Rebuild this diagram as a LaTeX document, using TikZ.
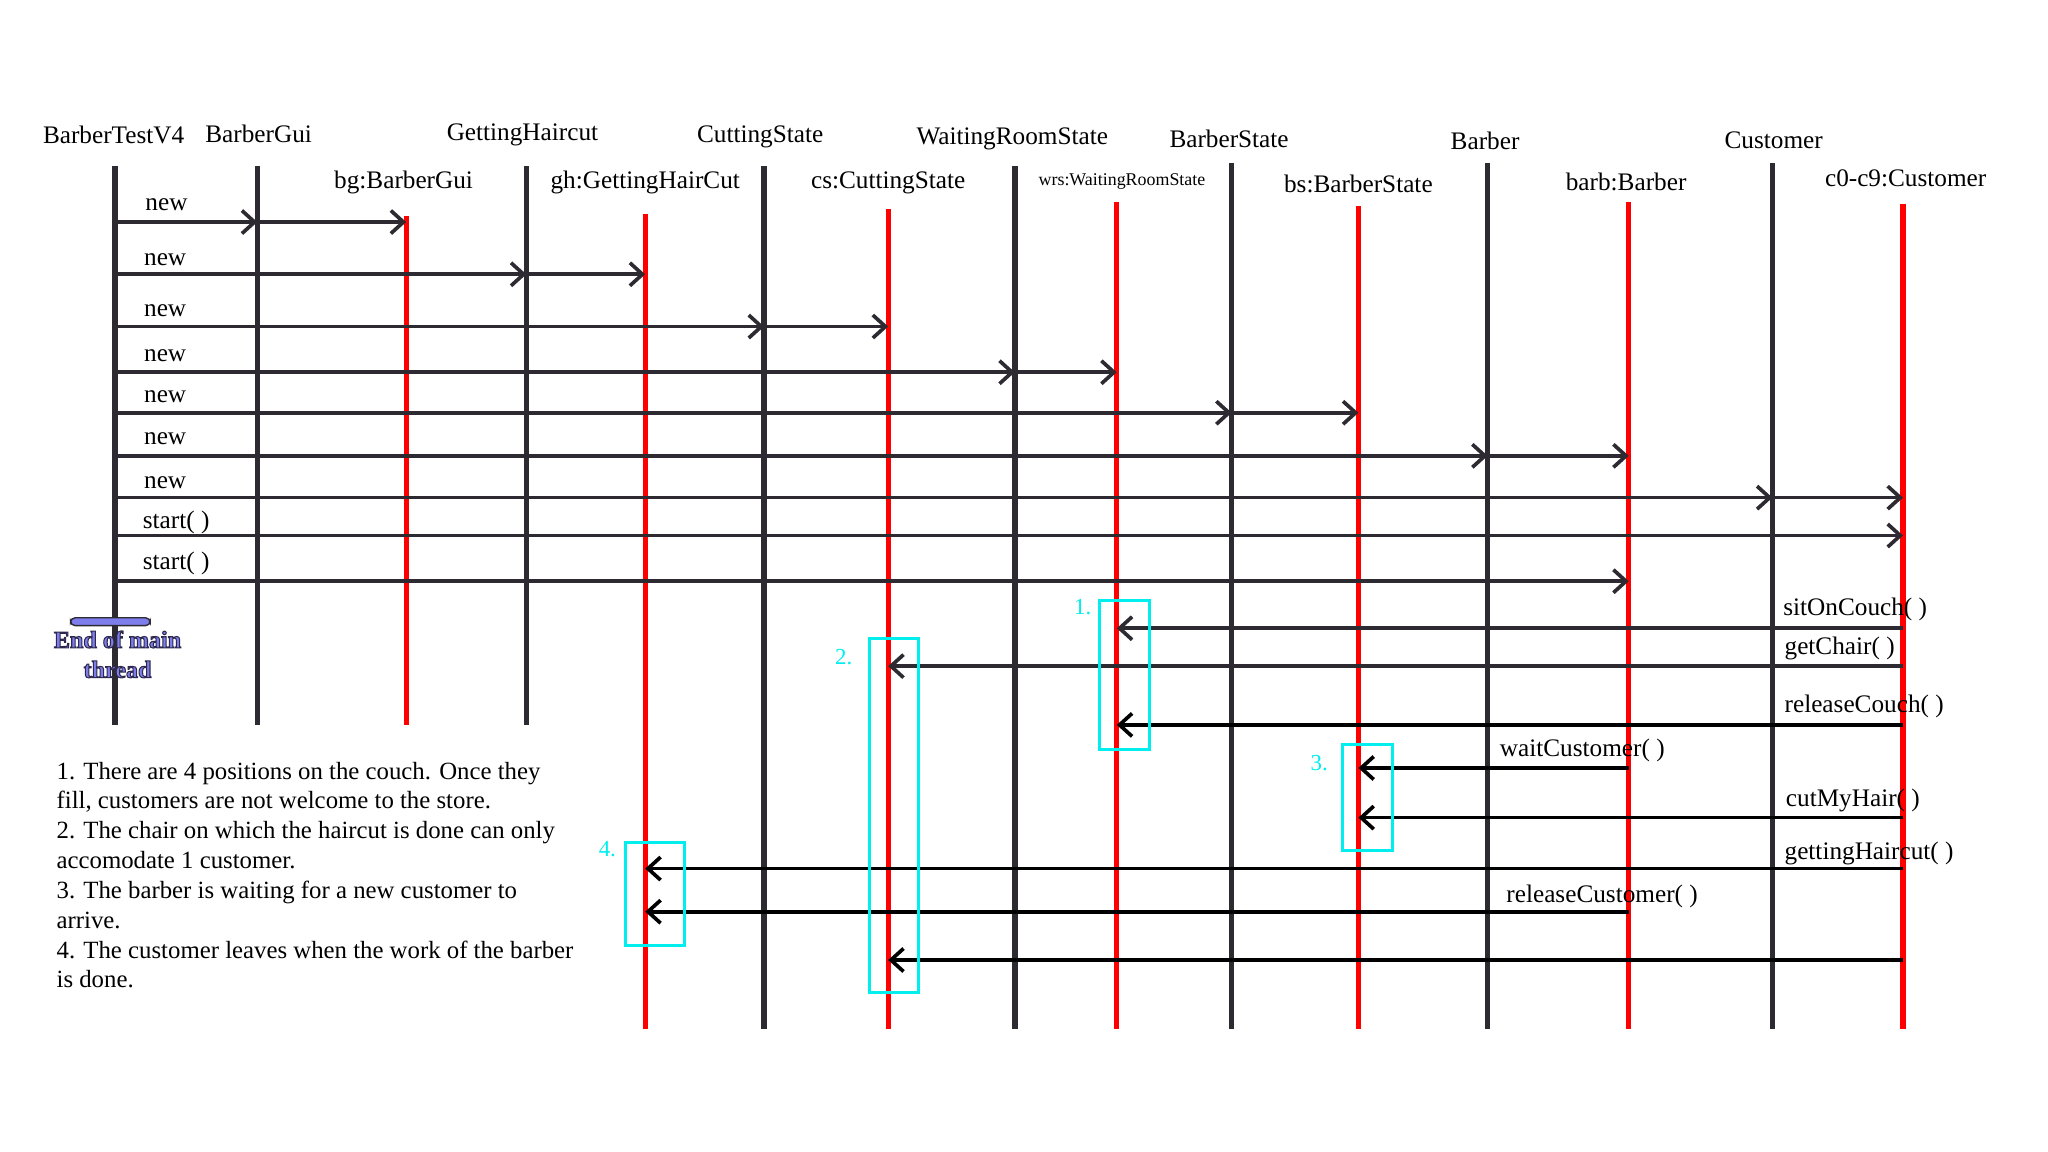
\documentclass[tikz,border=0pt]{standalone}
\usepackage{fontspec}
\setmainfont{Liberation Serif}
\usetikzlibrary{arrows.meta}

\definecolor{lifegray}{RGB}{45,42,50}
\definecolor{objred}{RGB}{255,0,0}
\definecolor{boxcyan}{RGB}{0,238,238}
\definecolor{endblue}{RGB}{125,125,235}

\begin{document}
\begin{tikzpicture}[
    x=0.02cm, y=-0.02cm,
    % 类的生命线（深灰）
    life/.style={line width=2.3pt, draw=lifegray},
    % 对象的生命线（红色）
    objline/.style={line width=2.3pt, draw=objred},
    % 调用箭头（开口箭头）
    call/.style={line width=1.6pt, draw=lifegray, -{Straight Barb[length=5.5pt, width=10pt]}},
    % 回调箭头（黑色）
    retcall/.style={call, draw=black},
    % 青色标注框
    notebox/.style={draw=boxcyan, line width=1.4pt},
    notenum/.style={text=boxcyan, font=\fontsize{10}{12}\selectfont},
    % 字体
    head/.style={font=\fontsize{11}{13}\selectfont, yshift=-1.5pt},
    msg/.style={font=\fontsize{11}{13}\selectfont, anchor=west, inner sep=0pt, yshift=-1.5pt},
    notes/.style={anchor=north west, inner sep=0pt, align=left, font=\fontsize{10.8}{13}\selectfont},
    endtext/.style={align=center, text=endblue, font=\bfseries\fontsize{10.5}{13}\selectfont}
]

    \useasboundingbox (0,0) rectangle (1568,882);

    % 1. 各条生命线的横坐标
    \def\xTest{88}     % BarberTestV4
    \def\xGui{197}     % BarberGui
    \def\xGH{403}      % GettingHaircut
    \def\xCS{585}      % CuttingState
    \def\xWR{777}      % WaitingRoomState
    \def\xBS{943}      % BarberState
    \def\xBarber{1139} % Barber
    \def\xCust{1357}   % Customer
    % 对象（红线）
    \def\xbg{311}
    \def\xgh{494}
    \def\xcs{680}
    \def\xwrs{855}
    \def\xbs{1040}
    \def\xbarb{1247}
    \def\xc{1457}
    \def\yEnd{788}

    % 2. 类名与对象名
    \node[head] (hTest)   at (87,101)   {BarberTestV4};
    \node[head] (hGui)    at (198,100)  {BarberGui};
    \node[head] (hGH)     at (400,101)  {GettingHaircut};
    \node[head] (hCS)     at (582,102)  {CuttingState};
    \node[head] (hWR)     at (775,104)  {WaitingRoomState};
    \node[head] (hBS)     at (941,104)  {BarberState};
    \node[head] (hBarber) at (1137,105) {Barber};
    \node[head] (hCust)   at (1358,105) {Customer};

    \node[head] (obg)   at (309,137)  {bg:BarberGui};
    \node[head] (ogh)   at (494,137)  {gh:GettingHairCut};
    \node[head] (ocs)   at (680,137)  {cs:CuttingState};
    \node[font=\fontsize{7.8}{9}\selectfont, yshift=-1pt] (owrs) at (859,137) {wrs:WaitingRoomState};
    \node[head] (obs)   at (1040,138) {bs:BarberState};
    \node[head] (obarb) at (1245,137) {barb:Barber};
    \node[head] (oc)    at (1459,134) {c0-c9:Customer};

    % 3. 生命线
    \draw[life] (\xTest,127) -- (\xTest,555);
    \draw[life] (\xGui,127) -- (\xGui,555);
    \draw[life] (\xGH,127) -- (\xGH,555);
    \draw[life] (\xCS,127) -- (\xCS,\yEnd);
    \draw[life] (\xWR,127) -- (\xWR,\yEnd);
    \draw[life] (\xBS,125) -- (\xBS,\yEnd);
    \draw[life] (\xBarber,125) -- (\xBarber,\yEnd);
    \draw[life] (\xCust,125) -- (\xCust,\yEnd);

    \draw[objline] (\xbg,165) -- (\xbg,555);
    \draw[objline] (\xgh,164) -- (\xgh,\yEnd);
    \draw[objline] (\xcs,160) -- (\xcs,\yEnd);
    \draw[objline] (\xwrs,155) -- (\xwrs,\yEnd);
    \draw[objline] (\xbs,158) -- (\xbs,\yEnd);
    \draw[objline] (\xbarb,155) -- (\xbarb,\yEnd);
    \draw[objline] (\xc,156) -- (\xc,\yEnd);

    % 4. 创建对象（new）
    \coordinate (n1a) at (\xTest,170);
    \coordinate (n1b) at (\xGui,170);
    \coordinate (n1c) at (\xbg,170);
    \draw[call] (n1a) -- (n1b);
    \draw[call] (n1b) -- (n1c);
    \node[msg] (new1) at (111,154) {new};

    \coordinate (n2a) at (\xTest,210);
    \coordinate (n2b) at (\xGH,210);
    \coordinate (n2c) at (\xgh,210);
    \draw[call] (n2a) -- (n2b);
    \draw[call] (n2b) -- (n2c);
    \node[msg] (new2) at (110,196) {new};

    \coordinate (n3a) at (\xTest,250);
    \coordinate (n3b) at (\xCS,250);
    \coordinate (n3c) at (\xcs,250);
    \draw[call] (n3a) -- (n3b);
    \draw[call] (n3b) -- (n3c);
    \node[msg] (new3) at (110,235) {new};

    \coordinate (n4a) at (\xTest,285);
    \coordinate (n4b) at (\xWR,285);
    \coordinate (n4c) at (\xwrs,285);
    \draw[call] (n4a) -- (n4b);
    \draw[call] (n4b) -- (n4c);
    \node[msg] (new4) at (110,270) {new};

    \coordinate (n5a) at (\xTest,316);
    \coordinate (n5b) at (\xBS,316);
    \coordinate (n5c) at (\xbs,316);
    \draw[call] (n5a) -- (n5b);
    \draw[call] (n5b) -- (n5c);
    \node[msg] (new5) at (110,301) {new};

    \coordinate (n6a) at (\xTest,349);
    \coordinate (n6b) at (\xBarber,349);
    \coordinate (n6c) at (\xbarb,349);
    \draw[call] (n6a) -- (n6b);
    \draw[call] (n6b) -- (n6c);
    \node[msg] (new6) at (110,333) {new};

    \coordinate (n7a) at (\xTest,381);
    \coordinate (n7b) at (\xCust,381);
    \coordinate (n7c) at (\xc,381);
    \draw[call] (n7a) -- (n7b);
    \draw[call] (n7b) -- (n7c);
    \node[msg] (new7) at (110,367) {new};

    % 5. 启动线程（start）
    \coordinate (s1a) at (\xTest,410);
    \coordinate (s1b) at (\xc,410);
    \draw[call] (s1a) -- (s1b);
    \node[msg] (start1) at (109,397) {start( )};

    \coordinate (s2a) at (\xTest,445);
    \coordinate (s2b) at (\xbarb,445);
    \draw[call] (s2a) -- (s2b);
    \node[msg] (start2) at (109,429) {start( )};

    % 6. 主线程结束
    \draw[draw=lifegray, fill=endblue, line width=0.6pt, rounded corners=2pt] (54,473) rectangle (115,479);
    \node[endtext] (endmain) at (90,501)
        {\special{pdf:literal 0.18 0.16 0.3 RG 0.45 w 2 Tr}End of main\\thread\special{pdf:literal 0 Tr}};

    % 7. 顾客 / 理发师的调用
    \coordinate (r1a) at (\xc,481);
    \coordinate (r1b) at (\xwrs,481);
    \draw[call] (r1a) -- (r1b);
    \node[msg] (sit) at (1365,464) {sitOnCouch( )};

    \coordinate (r2a) at (\xc,510);
    \coordinate (r2b) at (\xcs,510);
    \draw[call] (r2a) -- (r2b);
    \node[msg] (chair) at (1366,494) {getChair( )};

    \coordinate (r3a) at (\xc,555);
    \coordinate (r3b) at (\xwrs,555);
    \draw[retcall] (r3a) -- (r3b);
    \node[msg] (release) at (1366,538) {releaseCouch( )};

    \coordinate (r4a) at (\xbarb,588);
    \coordinate (r4b) at (\xbs,588);
    \draw[retcall] (r4a) -- (r4b);
    \node[msg] (wait) at (1148,572) {waitCustomer( )};

    \coordinate (r5a) at (\xc,626);
    \coordinate (r5b) at (\xbs,626);
    \draw[retcall] (r5a) -- (r5b);
    \node[msg] (cut) at (1367,610) {cutMyHair( )};

    \coordinate (r6a) at (\xc,665);
    \coordinate (r6b) at (\xgh,665);
    \draw[retcall] (r6a) -- (r6b);
    \node[msg] (getting) at (1366,651) {gettingHaircut( )};

    \coordinate (r7a) at (\xbarb,698);
    \coordinate (r7b) at (\xgh,698);
    \draw[retcall] (r7a) -- (r7b);
    \node[msg] (relcust) at (1153,684) {releaseCustomer( )};

    \coordinate (r8a) at (\xc,735);
    \coordinate (r8b) at (\xcs,735);
    \draw[retcall] (r8a) -- (r8b);

    % 8. 青色标注框
    \draw[notebox] (842,460) rectangle (880,574);
    \node[notenum] (k1) at (829,465) {1.};
    \draw[notebox] (666,489) rectangle (703,760);
    \node[notenum] (k2) at (646,503) {2.};
    \draw[notebox] (1028,570) rectangle (1066,651);
    \node[notenum] (k3) at (1010,584) {3.};
    \draw[notebox] (479,645) rectangle (524,724);
    \node[notenum] (k4) at (465,650) {4.};

    % 9. 说明文字
    \node[notes] (remarks) at (43,583) {1. There are 4 positions on the couch. Once they\\
        fill, customers are not welcome to the store.\\
        2. The chair on which the haircut is done can only\\
        accomodate 1 customer.\\
        3. The barber is waiting for a new customer to\\
        arrive.\\
        4. The customer leaves when the work of the barber\\
        is done.};

\end{tikzpicture}
\end{document}
